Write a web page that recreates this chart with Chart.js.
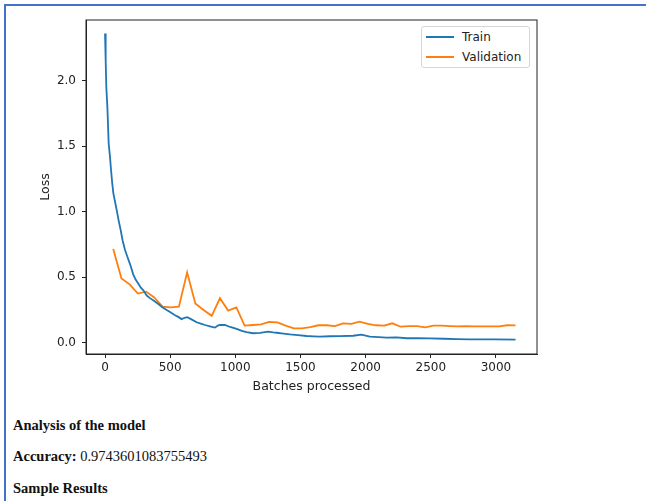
<!DOCTYPE html>
<html lang="en">
<head>
  <meta charset="UTF-8" />
  <title>Loss curves</title>
  <script src="https://cdn.jsdelivr.net/npm/chart.js"></script>
  <style>
    html, body {
      margin: 0;
      padding: 0;
      background: #fff;
      width: 646px;
      height: 501px;
      overflow: hidden;
    }

    #frame {
      position: absolute;
      left: 4px;
      top: 4px;
      width: 700px;
      height: 600px;
      border-top: 2px solid #4472c4;
      border-left: 2px solid #4472c4;
    }

    #chartWrap {
      position: absolute;
      left: 0;
      top: 0;
      width: 646px;
      height: 400px;
    }

    #legend {
      position: absolute;
      left: 421px;
      top: 26px;
      width: 107px;
      height: 40px;
      border: 1px solid #d6d6d6;
      border-radius: 3px;
      background: #fff;
      font-family: 'DejaVu Sans', sans-serif;
      font-size: 12px;
      color: #222;
    }

    .legend-item {
      position: absolute;
      left: 4px;
      height: 14px;
      line-height: 14px;
    }

    .legend-item span.swatch {
      position: absolute;
      left: 0;
      top: 6px;
      width: 28px;
      height: 2px;
    }

    .legend-item span.label {
      position: absolute;
      left: 36px;
      top: 0;
      white-space: nowrap;
    }

    .report {
      position: absolute;
      left: 13px;
      margin: 0;
      font-family: 'Liberation Serif', 'Times New Roman', serif;
      font-size: 14.5px;
      line-height: 16px;
      color: #111;
      white-space: nowrap;
    }
  </style>
</head>
<body>

<div id="frame"></div>

<div id="chartWrap">
  <canvas id="lossChart" width="646" height="400"></canvas>
</div>

<div id="legend"></div>

<p class="report" style="top:417px"><b>Analysis of the model</b></p>
<p class="report" style="top:448px"><b>Accuracy:</b> 0.9743601083755493</p>
<p class="report" style="top:480px"><b>Sample Results</b></p>

<script>
  const seriesNames = ["Train", "Validation"];
  const seriesColors = ["#1f77b4", "#ff7f0e"];

  const trainBatches = [0, 5, 10, 18, 28, 38, 46, 55, 64, 78, 90, 105, 120, 135, 153, 170, 192, 217, 236, 256,
    275, 294, 320, 345, 375, 409, 440, 473, 505, 537, 565, 588, 610, 631, 660, 703, 735, 767, 805, 843,
    865, 882, 920, 960, 1010, 1050, 1086, 1137, 1190, 1252, 1290, 1317, 1370, 1419, 1480, 1547, 1600, 1649, 1725, 1802,
    1904, 1968, 2032, 2100, 2160, 2237, 2314, 2400, 2492, 2600, 2700, 2800, 2900, 3000, 3150];
  const trainLoss = [2.36, 2.15, 1.95, 1.80, 1.52, 1.42, 1.32, 1.22, 1.14, 1.07, 1.01, 0.93, 0.86, 0.78, 0.71, 0.66, 0.60, 0.52, 0.48, 0.45,
    0.42, 0.40, 0.36, 0.34, 0.32, 0.295, 0.27, 0.25, 0.23, 0.21, 0.195, 0.18, 0.19, 0.195, 0.18, 0.156, 0.145, 0.135, 0.125, 0.115,
    0.13, 0.135, 0.135, 0.12, 0.105, 0.09, 0.08, 0.072, 0.075, 0.084, 0.078, 0.076, 0.07, 0.064, 0.058, 0.051, 0.048, 0.046, 0.049, 0.05,
    0.053, 0.062, 0.046, 0.042, 0.038, 0.041, 0.034, 0.034, 0.033, 0.03, 0.027, 0.026, 0.026, 0.025, 0.024];

  const valBatches = [63, 126, 189, 252, 315, 378, 441, 504, 567, 630, 693, 756, 819, 882, 945, 1008, 1071, 1134, 1197, 1260,
    1323, 1386, 1449, 1512, 1575, 1638, 1701, 1764, 1827, 1890, 1953, 2016, 2079, 2142, 2205, 2268, 2331, 2394, 2457, 2520,
    2583, 2646, 2709, 2772, 2835, 2898, 2961, 3024, 3087, 3150];
  const valLoss = [0.715, 0.49, 0.445, 0.375, 0.39, 0.345, 0.275, 0.27, 0.275, 0.537, 0.30, 0.25, 0.205, 0.34, 0.245, 0.27, 0.13, 0.135, 0.14, 0.158,
    0.155, 0.13, 0.11, 0.11, 0.118, 0.133, 0.133, 0.127, 0.148, 0.143, 0.16, 0.143, 0.133, 0.13, 0.148, 0.122, 0.127, 0.127, 0.117, 0.13,
    0.13, 0.127, 0.125, 0.127, 0.125, 0.124, 0.124, 0.125, 0.133, 0.132];

  const xTicks = [0, 500, 1000, 1500, 2000, 2500, 3000];
  const yTicks = [0.0, 0.5, 1.0, 1.5, 2.0];

  const tickFont = { family: "'DejaVu Sans', sans-serif", size: 12 };
  const titleFont = { family: "'DejaVu Sans', sans-serif", size: 12.5 };

  // matplotlib style box around the plot area
  const boxPlugin = {
    id: "box",
    afterDraw(chart) {
      const { ctx, chartArea: a } = chart;
      ctx.save();
      ctx.strokeStyle = "#222";
      ctx.lineWidth = 1;
      ctx.strokeRect(a.left, a.top, a.right - a.left, a.bottom - a.top);
      ctx.restore();
    }
  };

  function toPoints(xs, ys) {
    return xs.map((x, i) => ({ x: x, y: ys[i] }));
  }

  const chart = new Chart(document.getElementById("lossChart").getContext("2d"), {
    type: "line",
    data: {
      datasets: [
        {
          label: seriesNames[0],
          data: toPoints(trainBatches, trainLoss),
          borderColor: seriesColors[0],
          backgroundColor: seriesColors[0],
          borderWidth: 1.8,
          pointRadius: 0,
          tension: 0
        },
        {
          label: seriesNames[1],
          data: toPoints(valBatches, valLoss),
          borderColor: seriesColors[1],
          backgroundColor: seriesColors[1],
          borderWidth: 1.8,
          pointRadius: 0,
          tension: 0
        }
      ]
    },
    options: {
      responsive: false,
      animation: false,
      maintainAspectRatio: false,
      layout: { padding: { left: 0, top: 20, right: 109, bottom: 0 } },
      plugins: {
        legend: { display: false },
        tooltip: { enabled: false }
      },
      scales: {
        x: {
          type: "linear",
          min: -146,
          max: 3315,
          afterFit: s => { s.height = 46; },
          afterBuildTicks: s => { s.ticks = xTicks.map(v => ({ value: v })); },
          grid: { drawOnChartArea: false, drawTicks: true, tickLength: 4, color: "#222" },
          border: { color: "#222" },
          ticks: { font: tickFont, color: "#222", padding: 3, maxRotation: 0, callback: v => String(v) },
          title: { display: true, text: "Batches processed", font: titleFont, color: "#222", padding: { top: 0, bottom: 6 } }
        },
        y: {
          min: -0.0863,
          max: 2.463,
          afterFit: s => { s.width = 86; },
          afterBuildTicks: s => { s.ticks = yTicks.map(v => ({ value: v })); },
          grid: { drawOnChartArea: false, drawTicks: true, tickLength: 4, color: "#222" },
          border: { color: "#222" },
          ticks: { font: tickFont, color: "#222", padding: 6, callback: v => v.toFixed(1) },
          title: { display: true, text: "Loss", font: titleFont, color: "#222", padding: { top: 38, bottom: 0 } }
        }
      }
    },
    plugins: [boxPlugin]
  });

  // legend drawn in html, upper right of the plot like matplotlib
  const legendDiv = document.getElementById("legend");
  chart.data.datasets.forEach((ds, i) => {
    const item = document.createElement("div");
    item.className = "legend-item";
    item.style.top = (3 + i * 20) + "px";
    item.innerHTML = '<span class="swatch" style="background:' + ds.borderColor + '"></span>' +
      '<span class="label">' + ds.label + '</span>';
    legendDiv.appendChild(item);
  });
</script>

</body>
</html>
